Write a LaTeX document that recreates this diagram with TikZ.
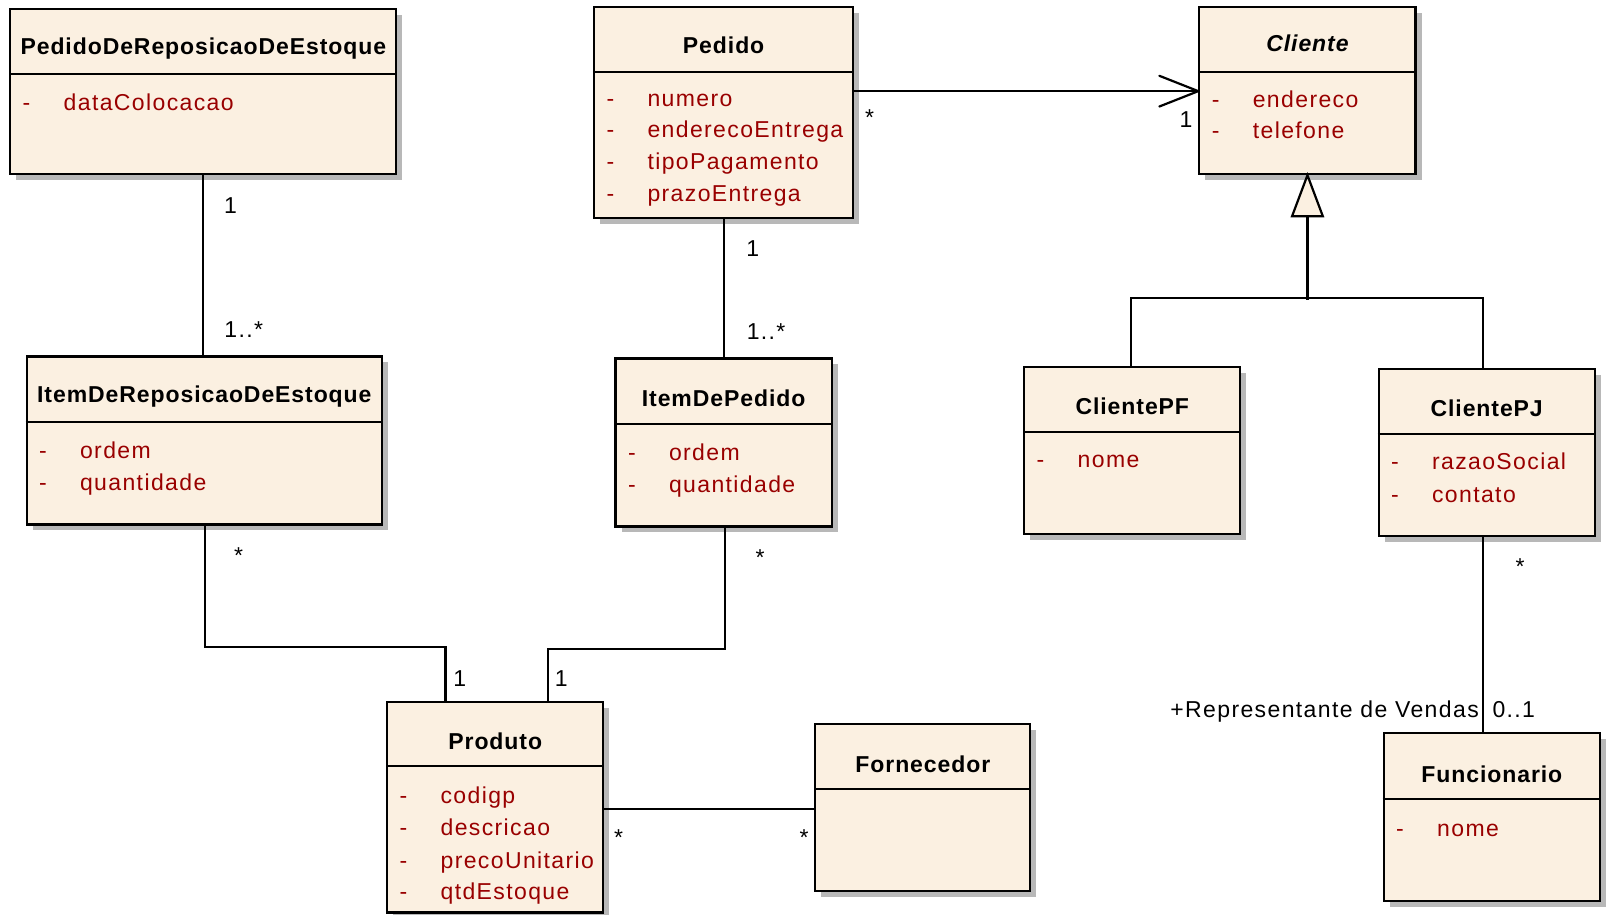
\documentclass[tikz,border=0pt]{standalone}
\usepackage{fontspec}
\setmainfont{Liberation Sans}
\newfontfamily\attrfont[LetterSpace=6]{Liberation Sans}
\newfontfamily\titlefont[LetterSpace=4]{Liberation Sans}
\usetikzlibrary{shadows,fit,calc}
\definecolor{clsfill}{RGB}{251,240,225}
\definecolor{attrred}{RGB}{153,0,0}
\tikzset{
  clsbox/.style={draw=black, line width=2.2pt, fill=clsfill, inner sep=0pt,
    drop shadow={shadow xshift=6pt, shadow yshift=-6pt, fill=black!28, opacity=1}},
  clsline/.style={line width=2pt},
  clstitle/.style={font=\titlefont\fontsize{23}{27}\selectfont\bfseries, inner sep=0pt},
  attrtxt/.style={font=\attrfont\fontsize{23}{27}\selectfont, text=attrred, inner sep=0pt,
    anchor=west, text height=16.5pt, text depth=5pt},
  mult/.style={font=\attrfont\fontsize{23}{27}\selectfont, inner sep=0pt, text height=16pt, text depth=4pt},
  conn/.style={line width=2.2pt, line cap=rect},
}
\newcommand\umlclass[8]{%
  \node[clsbox, fit={(#2,#3) (#4,#5)}] (#1) {};
  \draw[clsline] (#1.west |- 0,#6) -- (#1.east |- 0,#6);
  \node[clstitle] (#1-title) at ({(#2+#4)/2},#7) {#8};
}
\newcommand\umlattr[4]{%
  \node[attrtxt] (#1d) at ({#2+12},{#3+2}) {-};
  \node[attrtxt] (#1) at ({#2+52},{#3+2}) {#4};
}
\begin{document}
\begin{tikzpicture}[x=1.0242pt, y=-1.0242pt]
\useasboundingbox (0,0) rectangle (1568,893);
\fill[white] (0,0) rectangle (1568,893);

% classes
\umlclass{pedrep}{10}{9}{387}{170}{72}{47}{PedidoDeReposicaoDeEstoque}
\umlattr{pedrepa1}{10}{100}{dataColocacao}

\umlclass{pedido}{580}{7}{833}{213}{70}{44}{Pedido}
\umlattr{pedidoa1}{580}{96}{numero}
\umlattr{pedidoa2}{580}{127}{enderecoEntrega}
\umlattr{pedidoa3}{580}{158}{tipoPagamento}
\umlattr{pedidoa4}{580}{189}{prazoEntrega}

\umlclass{cliente}{1171}{7}{1382}{170}{70}{42}{\itshape Cliente}
\umlattr{clientea1}{1171}{97}{endereco}
\umlattr{clientea2}{1171}{128}{telefone}

\umlclass{itemrep}{26}{348}{373}{512}{412}{387}{ItemDeReposicaoDeEstoque}
\umlattr{itemrepa1}{26}{440}{ordem}
\umlattr{itemrepa2}{26}{471}{quantidade}

\umlclass{itempedido}{601}{350}{812}{514}{414}{389}{ItemDePedido}
\umlattr{itempedidoa1}{601}{442}{ordem}
\umlattr{itempedidoa2}{601}{473}{quantidade}

\umlclass{clientepf}{1000}{358}{1211}{521}{422}{397}{ClientePF}
\umlattr{clientepfa1}{1000}{449}{nome}

\umlclass{clientepj}{1346}{360}{1557}{523}{424}{399}{ClientePJ}
\umlattr{clientepja1}{1346}{451}{razaoSocial}
\umlattr{clientepja2}{1346}{483}{contato}

\umlclass{produto}{378}{685}{589}{891}{748}{724}{Produto}
\umlattr{produtoa1}{378}{777}{codigp}
\umlattr{produtoa2}{378}{808}{descricao}
\umlattr{produtoa3}{378}{840}{precoUnitario}
\umlattr{produtoa4}{378}{871}{qtdEstoque}

\umlclass{fornecedor}{796}{707}{1006}{870}{770}{746}{Fornecedor}

\umlclass{funcionario}{1351}{716}{1562}{880}{780}{756}{Funcionario}
\umlattr{funcionarioa1}{1351}{809}{nome}

% connectors
\draw[conn] (pedrep.south) -- (pedrep.south |- itemrep.north);
\draw[conn] (pedido.south) -- (pedido.south |- itempedido.north);

\coordinate (tipC) at (cliente.west |- 0,89);
\draw[conn] (pedido.east |- 0,89) -- (tipC);
\draw[conn, line cap=round, line join=round] ($(tipC)+(-38,-15)$) -- (tipC) -- ($(tipC)+(-38,15)$);

\draw[conn, fill=clsfill, line join=miter] (cliente.south) -- ++(-15,40) -- ++(30,0) -- cycle;
\coordinate (gbase) at ($(cliente.south)+(0,40)$);
\coordinate (gj) at ($(cliente.south)+(0,121)$);
\draw[conn] (gbase) -- (gj);
\coordinate (pfx) at (1104,291);
\coordinate (pjx) at (1448,291);
\draw[conn] (clientepf.north -| pfx) -- (pfx) -- (pjx) -- (clientepj.north -| pjx);

\coordinate (b1) at (200,632);
\coordinate (b2) at (435,632);
\draw[conn] (itemrep.south -| b1) -- (b1) -- (b2) -- (produto.north -| b2);
\coordinate (b3) at (708,634);
\coordinate (b4) at (535,634);
\draw[conn] (itempedido.south -| b3) -- (b3) -- (b4) -- (produto.north -| b4);

\draw[conn] (produto.east |- 0,790) -- (fornecedor.west |- 0,790);

\coordinate (fx) at (1448,600);
\draw[conn] (clientepj.south -| fx) -- (funcionario.north -| fx);

% multiplicities
\node[mult] (m1) at (225,203) {1};
\node[mult] (m2) at (238,324) {1..*};
\node[mult] (m3) at (735,245) {1};
\node[mult] (m4) at (748,326) {1..*};
\node[mult] (m5) at (849,117) {*};
\node[mult] (m6) at (1158,119) {1};
\node[mult] (m7) at (233,544) {*};
\node[mult] (m8) at (449,664) {1};
\node[mult] (m9) at (742,546) {*};
\node[mult] (m10) at (548,664) {1};
\node[mult] (m11) at (604,820) {*};
\node[mult] (m12) at (785,820) {*};
\node[mult] (m13) at (1484,555) {*};
\node[mult, anchor=east] (m14) at (1444,695) {+Representante de Vendas};
\node[mult, anchor=west] (m15) at (1457,695) {0..1};
\end{tikzpicture}
\end{document}
